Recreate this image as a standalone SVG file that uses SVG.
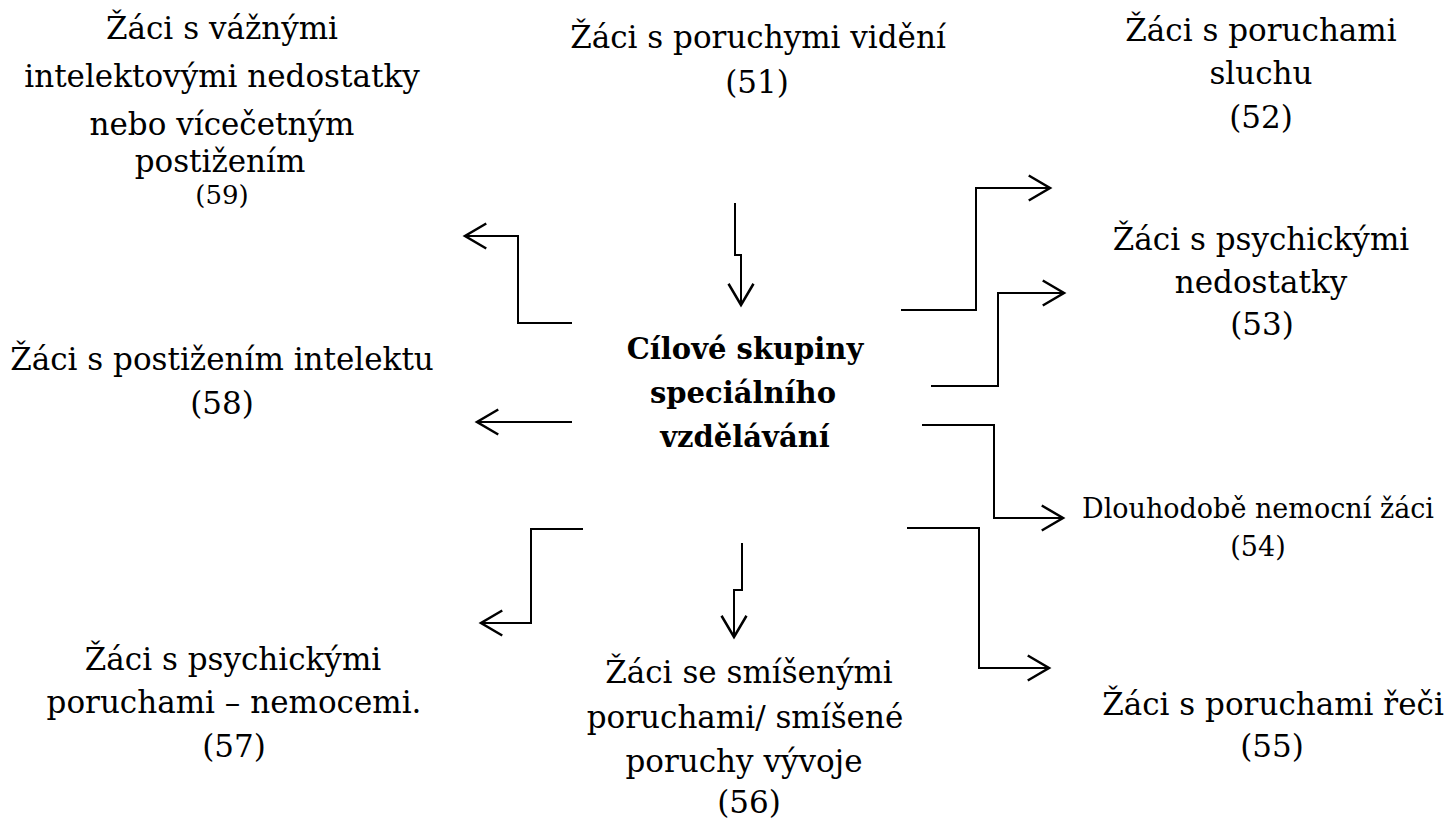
<svg xmlns="http://www.w3.org/2000/svg" width="1451" height="827" viewBox="0 0 1451 827">
<style>
text{font-family:"DejaVu Serif","Liberation Serif",serif;fill:#000;text-anchor:middle}
.t{font-size:31px}
.s{font-size:27px}
.s2{font-size:26px}
.b{font-size:29px;font-weight:bold}
.conn{fill:none;stroke:#000;stroke-width:2;marker-end:url(#arr)}
</style>
<defs>
<marker id="arr" markerUnits="userSpaceOnUse" markerWidth="30" markerHeight="30" viewBox="-20 -12 24 24" refX="0" refY="0" orient="auto" overflow="visible">
<path d="M-17,-10 L0,0 L-17,10" fill="none" stroke="#000" stroke-width="2"/>
</marker>
</defs>
<rect width="1451" height="827" fill="#fff"/>
<g id="center">
<text class="b" x="745" y="359">Cílové skupiny</text>
<text class="b" x="743" y="403">speciálního</text>
<text class="b" x="745" y="447">vzdělávání</text>
</g>
<g id="n51">
<text class="t" x="758" y="48">Žáci s poruchymi vidění</text>
<text class="t" x="757" y="93">(51)</text>
</g>
<g id="n52">
<text class="t" x="1261" y="41">Žáci s poruchami</text>
<text class="t" x="1261" y="84">sluchu</text>
<text class="t" x="1261" y="128">(52)</text>
</g>
<g id="n53">
<text class="t" x="1261" y="250">Žáci s psychickými</text>
<text class="t" x="1261" y="293">nedostatky</text>
<text class="t" x="1262" y="335">(53)</text>
</g>
<g id="n54">
<text class="s" x="1258" y="518">Dlouhodobě nemocní žáci</text>
<text class="s" x="1258" y="556">(54)</text>
</g>
<g id="n55">
<text class="t" x="1273" y="715">Žáci s poruchami řeči</text>
<text class="t" x="1272" y="757">(55)</text>
</g>
<g id="n56">
<text class="t" x="749" y="683">Žáci se smíšenými</text>
<text class="t" x="745" y="728">poruchami/ smíšené</text>
<text class="t" x="744" y="772">poruchy vývoje</text>
<text class="t" x="749" y="813">(56)</text>
</g>
<g id="n57">
<text class="t" x="233" y="670">Žáci s psychickými</text>
<text class="t" x="234" y="713">poruchami – nemocemi.</text>
<text class="t" x="234" y="757">(57)</text>
</g>
<g id="n58">
<text class="t" x="222" y="370">Žáci s postižením intelektu</text>
<text class="t" x="222" y="414">(58)</text>
</g>
<g id="n59">
<text class="t" x="222" y="39">Žáci s vážnými</text>
<text class="t" x="222" y="87">intelektovými nedostatky</text>
<text class="t" x="222" y="135">nebo vícečetným</text>
<text class="t" x="220" y="172">postižením</text>
<text class="s2" x="222" y="204">(59)</text>
</g>
<g id="connectors">
<polyline class="conn" points="735,203 735,255 741,255 741,305"/>
<polyline class="conn" points="572,323 518,323 518,236 465,236"/>
<polyline class="conn" points="572,422 477,422"/>
<polyline class="conn" points="901,310 976,310 976,188 1050,188"/>
<polyline class="conn" points="931,386 998,386 998,293 1064,293"/>
<polyline class="conn" points="922,425 994,425 994,518 1063,518"/>
<polyline class="conn" points="907,528 979,528 979,668 1049,668"/>
<polyline class="conn" points="742,543 742,590 734,590 734,637"/>
<polyline class="conn" points="583,529 531,529 531,623 481,623"/>
</g>
</svg>
